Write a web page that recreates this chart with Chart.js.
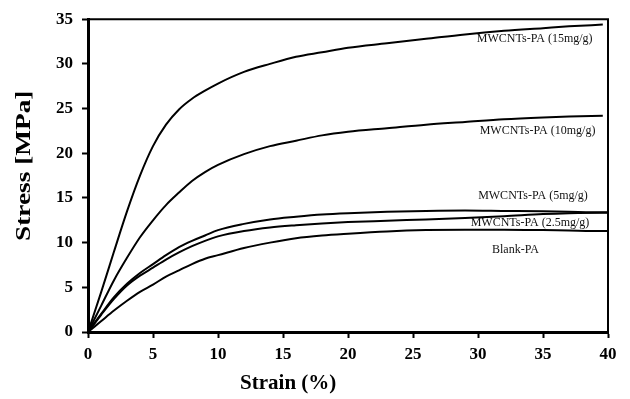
<!DOCTYPE html>
<html><head><meta charset="utf-8">
<script src="https://cdn.jsdelivr.net/npm/chart.js@4.4.1/dist/chart.umd.min.js"></script>
<style>html,body{margin:0;padding:0;background:#fff}#wrap{width:630px;height:399px}</style>
</head><body><div id="wrap"><canvas id="c" width="630" height="399"></canvas></div>
<script>
// ---- data ----
const strain    = [0, 1, 2, 3, 4, 5, 6, 7, 8, 9, 10, 12, 14, 16, 18, 20, 23, 26, 29, 32, 35, 37, 39.6, 40];
const stress15  = [0, 4.4, 9.0, 13.5, 17.5, 20.8, 23.2, 24.9, 26.1, 27.0, 27.8, 29.1, 30.0, 30.8, 31.3, 31.8, 32.3, 32.8, 33.3, 33.7, 34.0, 34.2, 34.4, null];
const stress10  = [0, 2.9, 5.8, 8.3, 10.6, 12.5, 14.2, 15.6, 16.9, 17.9, 18.7, 19.9, 20.8, 21.4, 22.0, 22.4, 22.8, 23.2, 23.5, 23.8, 24.0, 24.1, 24.2, null];
const stress5   = [0, 2.0, 3.9, 5.4, 6.6, 7.6, 8.6, 9.5, 10.2, 10.8, 11.4, 12.1, 12.6, 12.9, 13.15, 13.3, 13.45, 13.55, 13.6, 13.55, 13.5, 13.45, 13.4, 13.4];
const stress2_5 = [0, 1.9, 3.7, 5.2, 6.3, 7.2, 8.1, 8.9, 9.6, 10.2, 10.7, 11.3, 11.7, 11.95, 12.15, 12.3, 12.45, 12.6, 12.75, 12.95, 13.2, 13.3, 13.35, 13.35];
const stressBlank = [0, 1.2, 2.4, 3.5, 4.5, 5.3, 6.2, 6.9, 7.6, 8.2, 8.6, 9.4, 10.0, 10.5, 10.8, 11.0, 11.25, 11.4, 11.45, 11.45, 11.4, 11.35, 11.3, 11.3];
const seriesNames = ['MWCNTs-PA (15mg/g)', 'MWCNTs-PA (10mg/g)', 'MWCNTs-PA (5mg/g)', 'MWCNTs-PA (2.5mg/g)', 'Blank-PA'];
const xTickValues = [0, 5, 10, 15, 20, 25, 30, 35, 40];
const yTickValues = [0, 5, 10, 15, 20, 25, 30, 35];
const xTitle = 'Strain (%)';
const yTitle = 'Stress [MPa]';

// ---- presentation ----
const seriesValues = [stress15, stress10, stress5, stress2_5, stressBlank];
const labelAnchors = [[34.36, 32.8], [34.58, 22.46], [34.23, 15.26], [34.0, 12.23], [32.88, 9.23]];
const SERIF = '"Liberation Serif", "Times New Roman", serif';

const datasets = seriesValues.map((vals, i) => ({
  label: seriesNames[i],
  data: strain.map((x, j) => ({ x: x, y: vals[j] })),
  borderColor: '#000',
  borderWidth: 2,
  pointRadius: 0,
  fill: false,
  cubicInterpolationMode: 'monotone',
  spanGaps: false
}));

const decor = {
  id: 'decor',
  beforeDatasetsDraw(chart) {
    const { ctx, chartArea: a } = chart;
    ctx.save();
    ctx.strokeStyle = '#000';
    ctx.lineWidth = 2;
    ctx.beginPath();
    ctx.moveTo(a.left, a.top); ctx.lineTo(a.right, a.top); ctx.lineTo(a.right, a.bottom);
    ctx.stroke();
    ctx.restore();
  },
  afterDatasetsDraw(chart) {
    const { ctx, chartArea: a, scales } = chart;
    const xs = scales.x, ys = scales.y;
    ctx.save();
    ctx.fillStyle = '#111';
    ctx.font = '12px ' + SERIF;
    ctx.textAlign = 'center';
    ctx.textBaseline = 'middle';
    seriesNames.forEach((n, i) => {
      ctx.fillText(n, xs.getPixelForValue(labelAnchors[i][0]), ys.getPixelForValue(labelAnchors[i][1]));
    });
    // axis titles
    ctx.fillStyle = '#000';
    ctx.font = 'bold 21px ' + SERIF;
    ctx.fillText(xTitle, xs.getPixelForValue(15.4), a.bottom + 52);
    ctx.translate(25, ys.getPixelForValue(18.6));
    ctx.rotate(-Math.PI / 2);
    ctx.scale(1.3, 1);
    ctx.font = 'bold 21px ' + SERIF;
    ctx.fillText(yTitle, 0, 0);
    ctx.restore();
  }
};

new Chart(document.getElementById('c'), {
  type: 'line',
  data: { datasets },
  plugins: [decor],
  options: {
    responsive: false,
    animation: false,
    devicePixelRatio: 1,
    layout: { padding: { top: 14, right: 22, left: 0, bottom: 0 } },
    plugins: { legend: { display: false }, tooltip: { enabled: false }, title: { display: false } },
    scales: {
      x: {
        type: 'linear', min: 0, max: 40,
        afterBuildTicks: s => { s.ticks = xTickValues.map(v => ({ value: v })); },
        afterFit: s => { s.height = 67; },
        border: { display: true, color: '#000', width: 3 },
        grid: { display: true, drawOnChartArea: false, drawTicks: true, tickLength: 6, tickWidth: 2, tickColor: '#000' },
        ticks: { color: '#000', font: { family: SERIF, size: 17, weight: 'bold' }, padding: 6, maxRotation: 0 }
      },
      y: {
        type: 'linear', min: 0, max: 35,
        afterBuildTicks: s => { s.ticks = yTickValues.map(v => ({ value: v })); },
        afterFit: s => { s.width = 88; },
        border: { display: true, color: '#000', width: 3 },
        grid: { display: true, drawOnChartArea: false, drawTicks: true, tickLength: 6, tickWidth: 2, tickColor: '#000' },
        ticks: { color: '#000', font: { family: SERIF, size: 17, weight: 'bold' }, padding: 9 }
      }
    }
  }
});
</script></body></html>
